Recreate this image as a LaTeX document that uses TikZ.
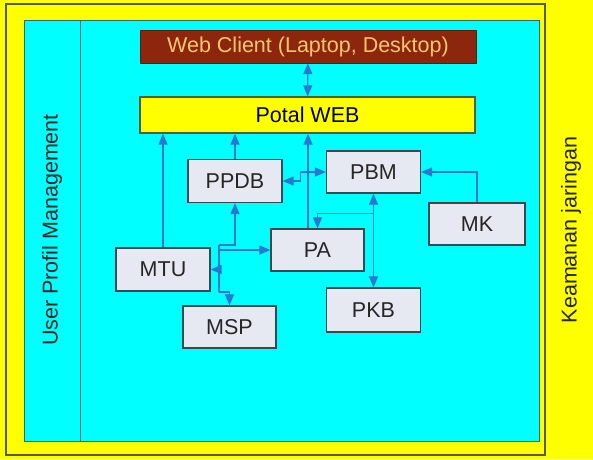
\documentclass[tikz,border=0pt]{standalone}
\usepackage{fontspec}
\setmainfont{Liberation Sans}
\usetikzlibrary{arrows.meta, calc}
\definecolor{bgYellow}{RGB}{255,255,0}
\definecolor{bgCyan}{RGB}{0,255,255}
\definecolor{clientBrown}{RGB}{140,38,12}
\definecolor{clientText}{RGB}{250,198,112}
\definecolor{boxFill}{RGB}{230,232,242}
\definecolor{boxLine}{RGB}{62,70,82}
\definecolor{linkBlue}{RGB}{40,120,210}
\definecolor{frameLine}{RGB}{84,92,60}
\definecolor{cyanLine}{RGB}{40,110,120}

\begin{document}
\begin{tikzpicture}[x=1pt, y=-1pt,
	label font/.style={font=\fontsize{21.5}{25}\selectfont},
	module/.style={draw=boxLine, line width=1.2pt, fill=boxFill, text=black!85,
		minimum width=94pt, minimum height=43pt, inner sep=0pt, label font},
	link/.style={draw=linkBlue, line width=1.1pt},
	one way/.style={-{Triangle[length=11pt, width=9pt, fill=linkBlue]}},
	two way/.style={{Triangle[length=11pt, width=9pt, fill=linkBlue]}-{Triangle[length=11pt, width=9pt, fill=linkBlue]}}]

	\useasboundingbox (0,0) rectangle (593,459);

	% yellow page, cyan work area
	\fill[bgYellow] (0,0) rectangle (593,459);
	\draw[frameLine, line width=1.2pt] (6,4) rectangle (545,455);
	\filldraw[fill=bgCyan, draw=cyanLine, line width=1pt] (24,20) rectangle (539,441);
	\draw[cyanLine, line width=0.8pt] (80,20) -- (80,441);

	\node[rotate=90, label font, text=black!85] (upm) at (52,230) {User Profil Management};
	\node[rotate=90, label font, text=black!85] (kj) at (571,230) {Keamanan jaringan};

	% top tiers
	\node[fill=clientBrown, draw=clientBrown!70!black, text=clientText, minimum width=336pt, minimum height=33pt, inner sep=0pt, label font] (web) at (308,46.5) {Web Client (Laptop, Desktop)};
	\node[fill=bgYellow, draw=frameLine, line width=1.2pt, minimum width=335pt, minimum height=36pt, inner sep=0pt, label font] (portal) at (307.5,115) {Potal WEB};

	% modules
	\node[module] (ppdb) at (235,181) {PPDB};
	\node[module, minimum height=42pt] (pbm) at (373.5,172) {PBM};
	\node[module, minimum width=96pt, minimum height=42pt] (mk) at (477,224) {MK};
	\node[module, minimum width=93pt, minimum height=42pt] (pa) at (317.5,250) {PA};
	\node[module] (mtu) at (163,269.5) {MTU};
	\node[module, minimum width=93pt, minimum height=42pt] (msp) at (229.5,327) {MSP};
	\node[module, minimum height=44pt] (pkb) at (373.5,310) {PKB};

	\coordinate (bustop) at (219,245);
	\coordinate (busbot) at (219,292);
	\coordinate (paup) at ($(pa.north)+(-9.5,0)$);

	\draw[link, two way] (web) -- (portal);
	\draw[link, one way] (mtu.north) -- (mtu.north |- portal.south);
	\draw[link, one way] (ppdb.north) -- (ppdb.north |- portal.south);
	\draw[link, one way] (paup) -- (paup |- portal.south);
	\draw[link, two way] (ppdb.east) -- ++(18,0) |- (pbm.west);
	\draw[link, one way] (mk.north) |- (pbm.east);
	\draw[link, two way] (pbm.south) -- (pkb.north);
	\draw[link, one way] ($(pbm.south)+(0,20)$) -| (pa.north);

	% MTU bus
	\draw[link] (bustop) -- (busbot);
	\draw[link, one way] (bustop) -| (ppdb.south);
	\draw[link, one way] (bustop |- mtu) -- (mtu.east);
	\draw[link, one way] (bustop |- pa) -- (pa.west);
	\draw[link, one way] (busbot) -| (msp.north);

\end{tikzpicture}
\end{document}
